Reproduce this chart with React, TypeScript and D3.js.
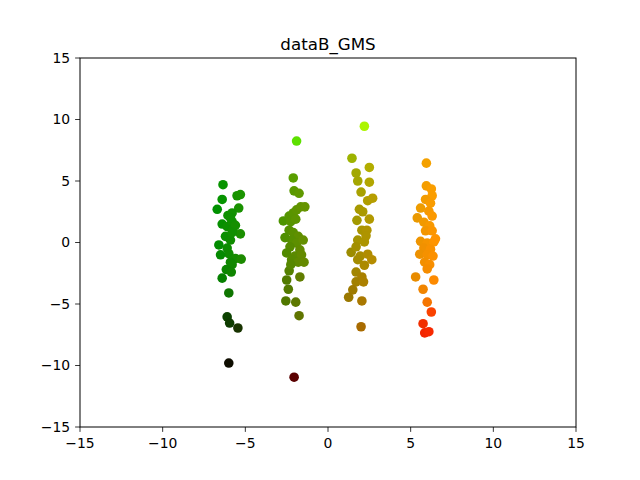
import { useEffect, useRef } from 'react';
import * as d3 from 'd3';

// cluster centred near x = -6
const groupAX = [-6.35, -6.4, -5.5, -5.3, -6.7, -5.4, -6.05, -5.8, -6.4, -6.1, -5.8, -5.75, -6.2, -5.3, -5.9, -6.6, -6.1, -6.0, -5.6, -5.25, -6.5, -5.9, -5.8, -6.15, -5.85, -6.4, -6.0, -6.1, -5.95, -5.45, -6.0, -5.9, -5.6, -5.8];
const groupAY = [4.7, 3.5, 3.8, 3.9, 2.7, 2.8, 2.2, 2.4, 1.5, 1.3, 1.7, 1.0, 0.5, 0.7, 0.2, -0.2, -0.45, -0.9, -1.3, -1.35, -1.0, -1.6, -1.8, -2.2, -2.4, -2.9, -4.1, -6.05, -6.55, -6.95, -9.8, 2.0, 1.4, 0.8];
const groupAZ = [0.58, 0.58, 0.58, 0.58, 0.57, 0.57, 0.57, 0.57, 0.56, 0.56, 0.56, 0.56, 0.56, 0.56, 0.55, 0.55, 0.55, 0.54, 0.54, 0.54, 0.54, 0.53, 0.53, 0.52, 0.52, 0.5, 0.46, 0.26, 0.23, 0.2, 0.05, 0.57, 0.56, 0.56];

// cluster centred near x = -2
const groupBX = [-1.9, -2.1, -2.05, -1.75, -2.7, -2.35, -2.1, -1.9, -1.65, -1.4, -2.25, -1.95, -2.35, -2.1, -1.8, -2.2, -1.9, -2.3, -1.7, -2.5, -2.0, -1.6, -2.2, -1.8, -1.45, -2.35, -1.7, -2.5, -2.4, -2.55, -1.95, -1.75, -2.05, -2.6, -1.5, -2.25];
const groupBY = [8.25, 5.25, 4.2, 4.0, 1.75, 2.15, 2.4, 2.65, 2.9, 2.9, 1.7, 1.9, 1.0, 0.8, 0.5, 0.2, -0.05, -0.35, -0.6, -0.85, -1.1, -1.0, -1.4, -1.6, -1.6, -2.3, -2.8, -3.05, -3.8, -4.75, -4.85, -5.95, -10.95, 0.4, 0.2, -1.8];
const groupBZ = [0.88, 0.62, 0.6, 0.6, 0.58, 0.58, 0.58, 0.58, 0.58, 0.58, 0.58, 0.58, 0.56, 0.56, 0.56, 0.56, 0.56, 0.54, 0.54, 0.54, 0.54, 0.54, 0.54, 0.54, 0.54, 0.5, 0.49, 0.48, 0.48, 0.47, 0.47, 0.46, 0.0, 0.56, 0.56, 0.53];

// cluster centred near x = 2
const groupCX = [2.2, 1.45, 2.5, 1.7, 1.8, 2.5, 2.0, 2.4, 2.7, 1.9, 2.1, 2.5, 1.75, 2.05, 2.35, 1.8, 2.2, 1.4, 1.95, 2.4, 2.65, 1.8, 2.2, 1.7, 2.05, 1.7, 2.15, 1.5, 1.25, 2.05, 2.0, 2.3, 1.7];
const groupCY = [9.45, 6.85, 6.1, 5.65, 5.0, 4.9, 4.1, 3.4, 3.6, 2.7, 2.5, 1.9, 1.8, 1.0, 1.0, 0.2, 0.05, -0.8, -1.1, -0.95, -1.4, -1.4, -1.85, -2.4, -2.8, -3.2, -3.2, -3.85, -4.45, -4.75, -6.85, 0.55, -0.35];
const groupCZ = [0.96, 0.7, 0.68, 0.66, 0.65, 0.65, 0.63, 0.62, 0.62, 0.6, 0.6, 0.6, 0.6, 0.58, 0.58, 0.58, 0.58, 0.55, 0.55, 0.55, 0.55, 0.55, 0.54, 0.52, 0.5, 0.5, 0.5, 0.48, 0.47, 0.47, 0.42, 0.58, 0.56];

// cluster centred near x = 6
const groupDX = [5.95, 5.95, 6.25, 6.3, 5.9, 6.2, 5.6, 6.1, 6.3, 5.4, 5.8, 6.15, 5.9, 6.3, 5.6, 6.0, 6.4, 6.5, 5.8, 6.2, 5.55, 6.0, 6.35, 5.85, 6.15, 6.0, 5.3, 6.4, 5.75, 6.0, 6.25, 5.75, 5.85, 6.1];
const groupDY = [6.45, 4.6, 4.35, 3.8, 3.5, 3.2, 2.8, 2.55, 2.15, 2.0, 1.65, 1.35, 0.95, 0.95, 0.1, -0.05, 0.05, 0.3, -0.45, -0.55, -0.95, -1.0, -1.1, -1.6, -1.8, -2.15, -2.8, -3.05, -3.8, -4.85, -5.65, -6.6, -7.35, -7.25];
const groupDZ = [0.63, 0.62, 0.62, 0.62, 0.61, 0.61, 0.61, 0.6, 0.6, 0.6, 0.6, 0.6, 0.59, 0.59, 0.58, 0.58, 0.58, 0.58, 0.57, 0.57, 0.57, 0.57, 0.57, 0.56, 0.56, 0.55, 0.55, 0.54, 0.52, 0.46, 0.26, 0.18, 0.15, 0.16];

const xTicks = [-15, -10, -5, 0, 5, 10, 15];
const yTicks = [-15, -10, -5, 0, 5, 10, 15];

const App = () => {
  const svgRef = useRef<SVGSVGElement>(null);

  useEffect(() => {
    if (!svgRef.current) return;
    const svg = d3.select(svgRef.current);
    svg.selectAll('*').remove();

    const left = 80, right = 576, top = 58, bottom = 427;
    const font = 'DejaVu Sans, sans-serif';

    const x = d3.scaleLinear().domain([-15, 15]).range([left, right]);
    const y = d3.scaleLinear().domain([-15, 15]).range([bottom, top]);

    const groups = [
      [groupAX, groupAY, groupAZ],
      [groupBX, groupBY, groupBZ],
      [groupCX, groupCY, groupCZ],
      [groupDX, groupDY, groupDZ],
    ];
    const points = groups.flatMap(([gx, gy, gz]) =>
      gx.map((v, i) => ({ x: v, y: gy[i], z: gz[i] })));

    // red channel follows x, green channel follows the third value
    const red = d3.scaleLinear().domain([-6.7, 6.5]).range([0, 255]).clamp(true);
    const green = d3.scaleLinear().domain([0, 1]).range([0, 255]).clamp(true);
    const colour = (d: { x: number; z: number }) =>
      d3.rgb(red(d.x), green(d.z), 0).formatHex();

    svg.append('rect')
      .attr('width', 640).attr('height', 480).attr('fill', '#ffffff');

    svg.append('g')
      .selectAll('circle')
      .data(points)
      .join('circle')
      .attr('cx', d => x(d.x))
      .attr('cy', d => y(d.y))
      .attr('r', 4.8)
      .attr('fill', d => colour(d));

    svg.append('rect')
      .attr('x', left).attr('y', top)
      .attr('width', right - left).attr('height', bottom - top)
      .attr('fill', 'none').attr('stroke', '#000').attr('stroke-width', 1);

    const fmt = (v: number) => (v < 0 ? '\u2212' + Math.abs(v) : String(v));

    const xAxis = svg.append('g');
    xTicks.forEach(t => {
      xAxis.append('line')
        .attr('x1', x(t)).attr('x2', x(t))
        .attr('y1', bottom).attr('y2', bottom + 4.9)
        .attr('stroke', '#000').attr('stroke-width', 0.8);
      xAxis.append('text')
        .attr('x', x(t)).attr('y', bottom + 20.5)
        .attr('text-anchor', 'middle')
        .attr('font-family', font).attr('font-size', 13.9)
        .text(fmt(t));
    });

    const yAxis = svg.append('g');
    yTicks.forEach(t => {
      yAxis.append('line')
        .attr('x1', left - 4.9).attr('x2', left)
        .attr('y1', y(t)).attr('y2', y(t))
        .attr('stroke', '#000').attr('stroke-width', 0.8);
      yAxis.append('text')
        .attr('x', left - 9.8).attr('y', y(t))
        .attr('dy', '0.35em')
        .attr('text-anchor', 'end')
        .attr('font-family', font).attr('font-size', 13.9)
        .text(fmt(t));
    });

    svg.append('text')
      .attr('x', (left + right) / 2).attr('y', top - 8.5)
      .attr('text-anchor', 'middle')
      .attr('font-family', font).attr('font-size', 16.7)
      .text('dataB_GMS');
  }, []);

  return (
    <svg
      ref={svgRef}
      width={640}
      height={480}
      style={{ position: 'absolute', left: 0, top: 0 }}
    />
  );
};

export default App;
